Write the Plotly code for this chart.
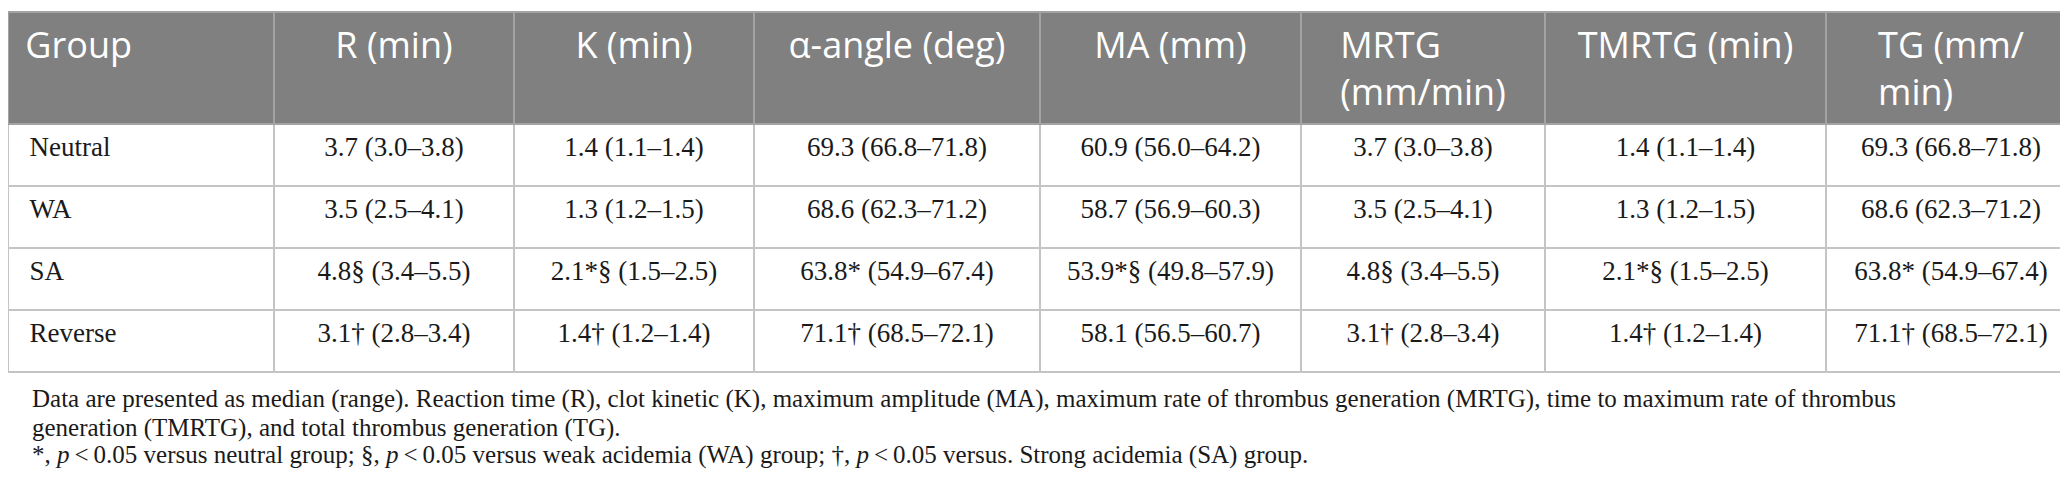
import plotly.graph_objects as go

groups = ["Neutral", "WA", "SA", "Reverse"]

r_median = [3.7, 3.5, 4.8, 3.1]
r_low = [3.0, 2.5, 3.4, 2.8]
r_high = [3.8, 4.1, 5.5, 3.4]
r_sig = ["", "", "§", "†"]

k_median = [1.4, 1.3, 2.1, 1.4]
k_low = [1.1, 1.2, 1.5, 1.2]
k_high = [1.4, 1.5, 2.5, 1.4]
k_sig = ["", "", "*§", "†"]

alpha_median = [69.3, 68.6, 63.8, 71.1]
alpha_low = [66.8, 62.3, 54.9, 68.5]
alpha_high = [71.8, 71.2, 67.4, 72.1]
alpha_sig = ["", "", "*", "†"]

ma_median = [60.9, 58.7, 53.9, 58.1]
ma_low = [56.0, 56.9, 49.8, 56.5]
ma_high = [64.2, 60.3, 57.9, 60.7]
ma_sig = ["", "", "*§", ""]

mrtg_median = [3.7, 3.5, 4.8, 3.1]
mrtg_low = [3.0, 2.5, 3.4, 2.8]
mrtg_high = [3.8, 4.1, 5.5, 3.4]
mrtg_sig = ["", "", "§", "†"]

tmrtg_median = [1.4, 1.3, 2.1, 1.4]
tmrtg_low = [1.1, 1.2, 1.5, 1.2]
tmrtg_high = [1.4, 1.5, 2.5, 1.4]
tmrtg_sig = ["", "", "*§", "†"]

tg_median = [69.3, 68.6, 63.8, 71.1]
tg_low = [66.8, 62.3, 54.9, 68.5]
tg_high = [71.8, 71.2, 67.4, 72.1]
tg_sig = ["", "", "*", "†"]

header_labels = ["Group", "R (min)", "K (min)", "α-angle (deg)", "MA (mm)",
                 "MRTG<br>(mm/min)", "TMRTG (min)", "TG (mm/<br>min)"]

footnote_lines = [
    "Data are presented as median (range). Reaction time (R), clot kinetic (K), maximum amplitude (MA), "
    "maximum rate of thrombus generation (MRTG), time to maximum rate of thrombus",
    "generation (TMRTG), and total thrombus generation (TG).",
    "*, <i>p</i>\u2009<\u20090.05 versus neutral group; §, <i>p</i>\u2009<\u20090.05 versus weak acidemia (WA) group; "
    "†, <i>p</i>\u2009<\u20090.05 versus. Strong acidemia (SA) group.",
]

# ---- formatting ----
def fmt(med, lo, hi, sig):
    return [f"<span>{m:.1f}{s} ({a:.1f}\u2013{b:.1f})</span>" for m, a, b, s in zip(med, lo, hi, sig)]

columns = [
    ["&nbsp;&nbsp;" + g for g in groups],
    fmt(r_median, r_low, r_high, r_sig),
    fmt(k_median, k_low, k_high, k_sig),
    fmt(alpha_median, alpha_low, alpha_high, alpha_sig),
    fmt(ma_median, ma_low, ma_high, ma_sig),
    fmt(mrtg_median, mrtg_low, mrtg_high, mrtg_sig),
    fmt(tmrtg_median, tmrtg_low, tmrtg_high, tmrtg_sig),
    fmt(tg_median, tg_low, tg_high, tg_sig),
]
headers = ["&nbsp;" + header_labels[0]] + [f"<span>{h}</span>" for h in header_labels[1:]]

W, H = 2068, 490
col_widths = [266, 240, 240, 286, 261, 244, 281, 250]
aligns = ["left"] + ["center"] * 7

fig = go.Figure(go.Table(
    columnwidth=col_widths,
    header=dict(
        values=headers,
        fill_color="#808080",
        font=dict(family="Open Sans", size=36, color="white"),
        align=aligns,
        height=110,
        line=dict(color="#a3a3a3", width=1.5),
    ),
    cells=dict(
        values=columns,
        fill_color="white",
        font=dict(family="Liberation Serif", size=27, color="#1a1a1a"),
        align=aligns,
        height=62,
        line=dict(color="#c4c4c4", width=1.5),
    ),
    domain=dict(x=[0, 1], y=[0, 1 - 4 / H]),
))

foot_y = [391, 420, 447]
for txt, yy in zip(footnote_lines, foot_y):
    fig.add_annotation(
        text=txt, xref="paper", yref="paper", x=22 / W, y=1 - yy / H,
        xanchor="left", yanchor="middle", showarrow=False,
        font=dict(family="Liberation Serif", size=25, color="#1a1a1a"),
    )

fig.update_layout(
    width=W, height=H,
    margin=dict(l=0, r=0, t=0, b=0),
    paper_bgcolor="white", plot_bgcolor="white",
)

fig.write_html("out.html")
